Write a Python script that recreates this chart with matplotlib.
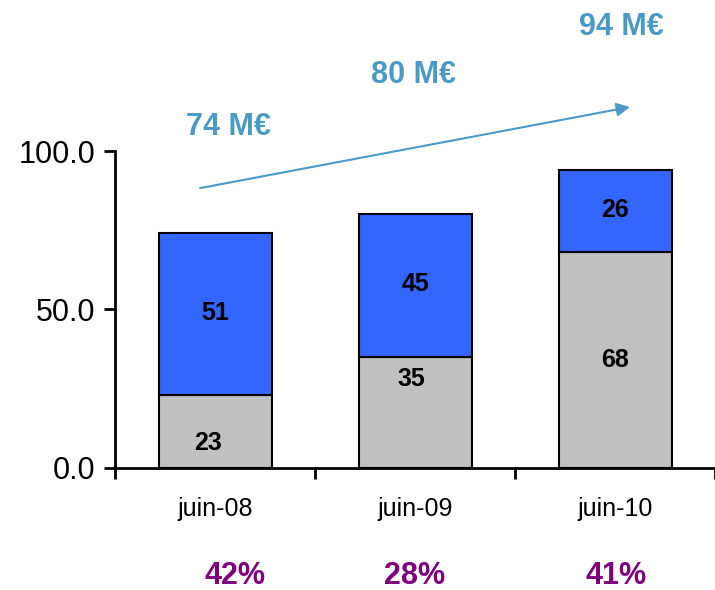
import matplotlib.pyplot as plt
import numpy as np

# data
periods = ["juin-08", "juin-09", "juin-10"]
grey_part = [23, 35, 68]
blue_part = [51, 45, 26]
totals = ["74 M€", "80 M€", "94 M€"]
percents = ["42%", "28%", "41%"]

plt.rcParams['font.family'] = ['Liberation Sans', 'DejaVu Sans']

fig = plt.figure(figsize=(7.15, 5.9), dpi=100)
ax = fig.add_axes([0.161, 0.207, 0.839, 0.537])

x = np.arange(len(periods))
w = 0.565
ax.bar(x, grey_part, w, color="#C0C0C0", edgecolor="black", linewidth=1.5, zorder=2)
ax.bar(x, blue_part, w, bottom=grey_part, color="#3366FF", edgecolor="black",
       linewidth=1.5, zorder=2)

# values inside the bars (grey label positions as in the original)
grey_lbl_y = [8, 28, 34]
grey_lbl_dx = [-0.035, -0.02, 0.0]
for i in range(len(x)):
    ax.text(x[i] + grey_lbl_dx[i], grey_lbl_y[i], str(grey_part[i]), ha="center",
            va="center", fontsize=18, fontweight="bold")
    ax.text(x[i], grey_part[i] + blue_part[i] / 2 + 0.5, str(blue_part[i]),
            ha="center", va="center", fontsize=18, fontweight="bold")

# growth arrow and totals
ax.annotate("", xy=(2.075, 113.9), xytext=(-0.075, 88.3),
            arrowprops=dict(arrowstyle="-|>", color="#4A9AC8", lw=1.5,
                            mutation_scale=20, shrinkA=0, shrinkB=0),
            annotation_clip=False)
tot_x = [0.065, 0.99, 2.03]
tot_y = [107.6, 124.1, 139.2]
for i in range(len(totals)):
    ax.text(tot_x[i], tot_y[i], totals[i], ha="center", va="center", fontsize=22,
            fontweight="bold", color="#4A9AC8", clip_on=False)

# percentages below
pct_x = [0.1, 1.0, 2.005]
for i in range(len(percents)):
    ax.text(pct_x[i], -34.0, percents[i], ha="center", va="center", fontsize=22,
            fontweight="bold", color="#800080", clip_on=False)

ax.set_xlim(-0.5, 2.5)
ax.set_ylim(0, 100)
ax.set_yticks([0, 50, 100])
ax.set_yticklabels(["0.0", "50.0", "100.0"], fontsize=22)
ax.set_xticks([-0.5, 0.5, 1.5, 2.5])
ax.set_xticklabels([])
ax.set_xticks(x, minor=True)
ax.set_xticklabels(periods, minor=True, fontsize=18)
ax.tick_params(axis="x", which="minor", length=0, pad=21)
ax.tick_params(axis="x", which="major", length=8, width=2, direction="out")
ax.tick_params(axis="y", length=8, width=2, direction="out", pad=6)

for s in ["top", "right"]:
    ax.spines[s].set_visible(False)
for s in ["left", "bottom"]:
    ax.spines[s].set_linewidth(2)

fig.savefig("out.png", dpi=100)
